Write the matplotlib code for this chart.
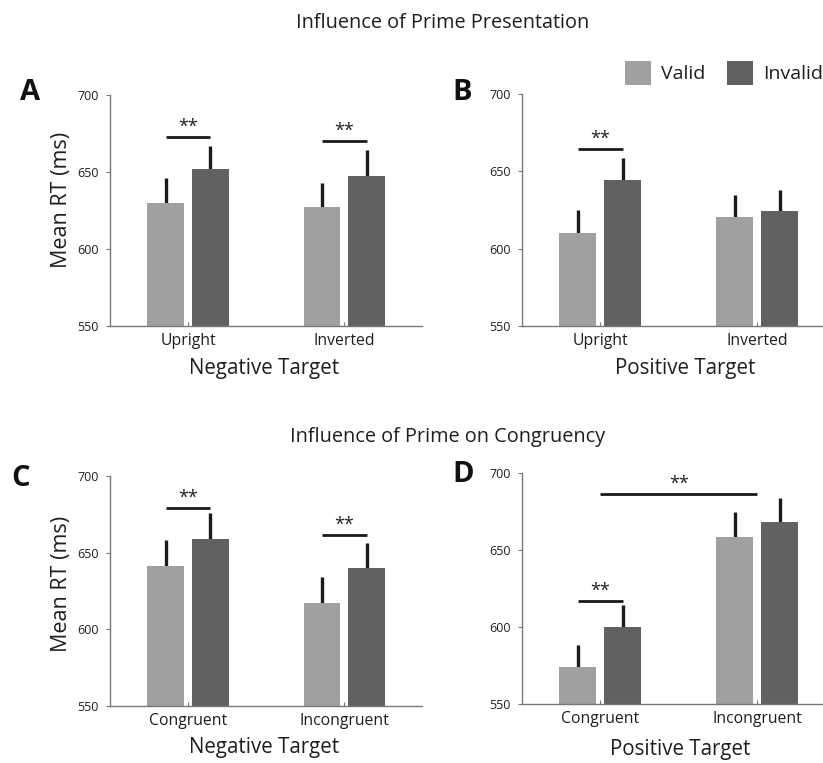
import matplotlib
matplotlib.use('Agg')
import matplotlib.pyplot as plt
import numpy as np
from matplotlib.patches import Patch

# ---------------- data ----------------
series = ['Valid', 'Invalid']
colors = ['#a0a0a0', '#616161']

a_cats = ['Upright', 'Inverted']
a_valid = [630, 627]
a_valid_err = [16, 16]
a_invalid = [652, 647.5]
a_invalid_err = [15, 16.5]
a_sig = [672.5, 670]

b_cats = ['Upright', 'Inverted']
b_valid = [610, 620.5]
b_valid_err = [15, 14]
b_invalid = [644.5, 624.5]
b_invalid_err = [14.5, 13.5]
b_sig = [664.5, None]

c_cats = ['Congruent', 'Incongruent']
c_valid = [641, 617]
c_valid_err = [17, 17]
c_invalid = [659, 640]
c_invalid_err = [17, 16]
c_sig = [679, 661.5]

d_cats = ['Congruent', 'Incongruent']
d_valid = [574, 658]
d_valid_err = [14, 16.5]
d_invalid = [600, 668]
d_invalid_err = [14, 15.5]
d_sig = [616.5, None]
d_cross_sig = 686

yticks = [550, 600, 650, 700]

# ---------------- layout ----------------
W, H = 823, 763
plt.rcParams['font.family'] = ['Open Sans', 'DejaVu Sans']
fig = plt.figure(figsize=(W / 100, H / 100), dpi=100)
TXT = '#1e1e1e'


def add_ax(l, t, r, b):
    return fig.add_axes([l / W, 1 - b / H, (r - l) / W, (b - t) / H])


def ftext(x, y, s, **kw):
    fig.text(x / W, 1 - y / H, s, **kw)


OFF = 0.143
BW = 0.236


def panel(ax, cats, valid, verr, invalid, ierr, sig):
    x = np.arange(1, len(cats) + 1)
    ax.bar(x - OFF, valid, width=BW, color=colors[0], zorder=2)
    ax.bar(x + OFF, invalid, width=BW, color=colors[1], zorder=2)
    ax.errorbar(x - OFF, valid, yerr=[np.zeros(len(x)), verr], fmt='none',
                ecolor='#1a1a1a', elinewidth=2.4, capsize=0, zorder=1)
    ax.errorbar(x + OFF, invalid, yerr=[np.zeros(len(x)), ierr], fmt='none',
                ecolor='#1a1a1a', elinewidth=2.4, capsize=0, zorder=1)
    for xi, s in zip(x, sig):
        if s is None:
            continue
        ax.plot([xi - OFF, xi + OFF], [s, s], color='#1a1a1a', lw=2.0,
                solid_capstyle='butt', clip_on=False)
        ax.text(xi, s + 0.8, '**', ha='center', va='bottom', fontsize=13,
                color=TXT)
    ax.set_xlim(0.5, 2.5)
    ax.set_ylim(550, 700)
    ax.set_yticks(yticks)
    ax.set_yticklabels([str(v) for v in yticks], fontsize=9, color=TXT)
    ax.set_xticks(x)
    ax.set_xticklabels(cats, fontsize=11.3, color=TXT)
    ax.tick_params(axis='x', direction='in', length=3, width=0.8, pad=5,
                   color='#777777')
    ax.tick_params(axis='y', direction='out', length=3, width=0.8, pad=5,
                   color='#777777')
    for sp in ['top', 'right']:
        ax.spines[sp].set_visible(False)
    for sp in ['left', 'bottom']:
        ax.spines[sp].set_color('#777777')
        ax.spines[sp].set_linewidth(1.0)


axA = add_ax(110, 95, 422.5, 325.7)
panel(axA, a_cats, a_valid, a_valid_err, a_invalid, a_invalid_err, a_sig)
axB = add_ax(521.7, 94.3, 836, 325.7)
panel(axB, b_cats, b_valid, b_valid_err, b_invalid, b_invalid_err, b_sig)
axC = add_ax(110, 476, 422.5, 705.7)
panel(axC, c_cats, c_valid, c_valid_err, c_invalid, c_invalid_err, c_sig)
axD = add_ax(521.7, 472.7, 836, 704)
panel(axD, d_cats, d_valid, d_valid_err, d_invalid, d_invalid_err, d_sig)
axD.plot([1, 2], [d_cross_sig, d_cross_sig], color='#1a1a1a', lw=2.0,
         solid_capstyle='butt', clip_on=False)
axD.text(1.5, d_cross_sig + 0.8, '**', ha='center', va='bottom', fontsize=13,
         color=TXT)

# titles
ftext(443, 23, 'Influence of Prime Presentation', ha='center', va='center',
      fontsize=14.3, color=TXT)
ftext(448, 437, 'Influence of Prime on Congruency', ha='center', va='center',
      fontsize=14.3, color=TXT)

# panel letters
for (px, py, s) in [(30, 92, 'A'), (462, 92, 'B'), (21, 479, 'C'), (463, 474, 'D')]:
    ftext(px, py, s, ha='center', va='center', fontsize=21, fontweight='bold',
          color='#111111')

# y labels
ftext(61, 200, 'Mean RT (ms)', ha='center', va='center', rotation=90,
      fontsize=15.5, color=TXT)
ftext(61, 584, 'Mean RT (ms)', ha='center', va='center', rotation=90,
      fontsize=15.5, color=TXT)

# x labels
ftext(264, 369, 'Negative Target', ha='center', va='center', fontsize=14.8, color=TXT)
ftext(685, 369, 'Positive Target', ha='center', va='center', fontsize=14.8, color=TXT)
ftext(264, 747, 'Negative Target', ha='center', va='center', fontsize=14.8, color=TXT)
ftext(680, 750, 'Positive Target', ha='center', va='center', fontsize=14.8, color=TXT)

# legend
handles = [Patch(facecolor=colors[0], label=series[0]),
           Patch(facecolor=colors[1], label=series[1])]
fig.legend(handles=handles, loc='center', bbox_to_anchor=(724 / W, 1 - 73 / H),
           ncol=2, frameon=False, fontsize=14, handlelength=1.35,
           handleheight=1.5, handletextpad=0.5, columnspacing=1.1,
           labelcolor=TXT)

fig.savefig('out.png', dpi=100)
